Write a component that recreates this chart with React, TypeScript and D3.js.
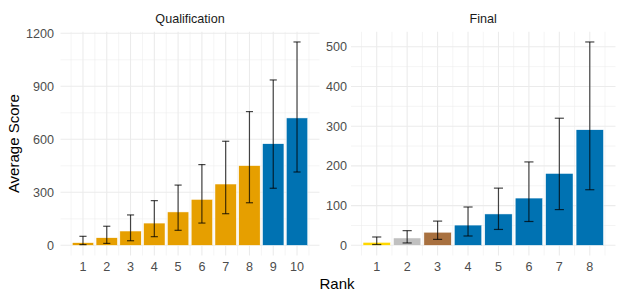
import React, { useEffect, useRef } from "react";
import * as d3 from "d3";

// qualification round, ranks 1..10
const qualRanks = [1, 2, 3, 4, 5, 6, 7, 8, 9, 10];
const qualMean = [15, 43, 81, 126, 189, 260, 347, 451, 575, 721];
const qualLow = [4, 11, 26, 49, 85, 126, 179, 241, 323, 415];
const qualHigh = [51, 108, 172, 253, 341, 457, 589, 757, 936, 1151];
const qualColors = ["#E69F00", "#E69F00", "#E69F00", "#E69F00", "#E69F00", "#E69F00", "#E69F00", "#E69F00", "#0072B2", "#0072B2"];
const qualTicks = [0, 300, 600, 900, 1200];

// final round, ranks 1..8
const finalRanks = [1, 2, 3, 4, 5, 6, 7, 8];
const finalMean = [7.5, 18.5, 33, 51, 79, 119, 181, 291];
const finalLow = [2, 6, 15, 23.5, 40, 60, 90, 140];
const finalHigh = [21, 37, 61, 96.5, 144, 210, 320, 512];
const finalColors = ["#FFD700", "#C0C0C0", "#A8703F", "#0072B2", "#0072B2", "#0072B2", "#0072B2", "#0072B2"];
const finalTicks = [0, 100, 200, 300, 400, 500];

const font = "Liberation Sans, Arial, sans-serif";

function App() {
  const ref = useRef(null);

  useEffect(() => {
    const root = d3.select(ref.current);
    root.selectAll("*").remove();
    const svg = root.append("svg").attr("width", 620).attr("height", 300).style("display", "block");
    svg.append("rect").attr("width", 620).attr("height", 300).attr("fill", "#fff");

    const top = 31.8;
    const bottom = 255.5;

    const panels = [
      { title: "Qualification", left: 60.5, right: 319.5, ranks: qualRanks, mean: qualMean, low: qualLow, high: qualHigh, colors: qualColors, ticks: qualTicks, labelX: 54 },
      { title: "Final", left: 351, right: 615.5, ranks: finalRanks, mean: finalMean, low: finalLow, high: finalHigh, colors: finalColors, ticks: finalTicks, labelX: 347 },
    ];

    panels.forEach((p) => {
      const n = p.ranks.length;
      const xPad = (n + 0.45 - 0.55) * 0.05;
      const x = d3.scaleLinear().domain([0.55 - xPad, n + 0.45 + xPad]).range([p.left, p.right]);
      const maxY = d3.max(p.high);
      const yPad = maxY * 0.05;
      const y = d3.scaleLinear().domain([-yPad, maxY + yPad]).range([bottom, top]);

      const g = svg.append("g");

      // minor grid
      const step = p.ticks[1] - p.ticks[0];
      const minorY = p.ticks.map((t) => t + step / 2).filter((t) => y(t) > top);
      g.selectAll("line.minor-y").data(minorY).join("line")
        .attr("x1", p.left).attr("x2", p.right)
        .attr("y1", (d) => y(d)).attr("y2", (d) => y(d))
        .attr("stroke", "#EBEBEB").attr("stroke-width", 0.55);
      const minorX = [0.5, ...p.ranks.map((r) => r + 0.5)];
      g.selectAll("line.minor-x").data(minorX).join("line")
        .attr("x1", (d) => x(d)).attr("x2", (d) => x(d))
        .attr("y1", top).attr("y2", bottom)
        .attr("stroke", "#EBEBEB").attr("stroke-width", 0.55);

      // major grid
      g.selectAll("line.major-y").data(p.ticks).join("line")
        .attr("x1", p.left).attr("x2", p.right)
        .attr("y1", (d) => y(d)).attr("y2", (d) => y(d))
        .attr("stroke", "#EBEBEB").attr("stroke-width", 1.07);
      g.selectAll("line.major-x").data(p.ranks).join("line")
        .attr("x1", (d) => x(d)).attr("x2", (d) => x(d))
        .attr("y1", top).attr("y2", bottom)
        .attr("stroke", "#EBEBEB").attr("stroke-width", 1.07);

      // bars
      g.selectAll("rect.bar").data(p.ranks).join("rect")
        .attr("x", (d) => x(d - 0.45))
        .attr("width", (d) => x(d + 0.45) - x(d - 0.45))
        .attr("y", (d, i) => y(p.mean[i]))
        .attr("height", (d, i) => y(0) - y(p.mean[i]))
        .attr("fill", (d, i) => p.colors[i])
        .attr("stroke", "#ffffff").attr("stroke-width", 0.5);

      // error bars
      const eb = g.selectAll("g.err").data(p.ranks).join("g").attr("stroke", "rgba(0,0,0,0.72)").attr("stroke-width", 1.2);
      eb.append("line")
        .attr("x1", (d) => x(d)).attr("x2", (d) => x(d))
        .attr("y1", (d, i) => y(p.low[i])).attr("y2", (d, i) => y(p.high[i]));
      eb.append("line")
        .attr("x1", (d) => x(d - 0.15)).attr("x2", (d) => x(d + 0.15))
        .attr("y1", (d, i) => y(p.low[i])).attr("y2", (d, i) => y(p.low[i]));
      eb.append("line")
        .attr("x1", (d) => x(d - 0.15)).attr("x2", (d) => x(d + 0.15))
        .attr("y1", (d, i) => y(p.high[i])).attr("y2", (d, i) => y(p.high[i]));

      // y tick labels
      g.selectAll("text.ytick").data(p.ticks).join("text")
        .attr("x", p.labelX).attr("y", (d) => y(d))
        .attr("dy", "0.35em").attr("text-anchor", "end")
        .style("font-family", font).style("font-size", "12.6px").attr("fill", "#4D4D4D")
        .text((d) => d);

      // x tick labels
      g.selectAll("text.xtick").data(p.ranks).join("text")
        .attr("x", (d) => x(d)).attr("y", 267)
        .attr("dy", "0.35em").attr("text-anchor", "middle")
        .style("font-family", font).style("font-size", "12.6px").attr("fill", "#4D4D4D")
        .text((d) => d);

      // strip title
      g.append("text")
        .attr("x", (p.left + p.right) / 2).attr("y", 19)
        .attr("dy", "0.35em").attr("text-anchor", "middle")
        .style("font-family", font).style("font-size", "12.6px").attr("fill", "#1A1A1A")
        .text(p.title);
    });

    // axis titles
    svg.append("text")
      .attr("transform", `translate(14,${(top + bottom) / 2}) rotate(-90)`)
      .attr("dy", "0.35em").attr("text-anchor", "middle")
      .style("font-family", font).style("font-size", "15px").attr("fill", "#000")
      .text("Average Score");
    svg.append("text")
      .attr("x", 337).attr("y", 284)
      .attr("dy", "0.35em").attr("text-anchor", "middle")
      .style("font-family", font).style("font-size", "15px").attr("fill", "#000")
      .text("Rank");
  }, []);

  return <div ref={ref} style={{ position: "absolute", left: 0, top: 0 }}></div>;
}

export default App;
